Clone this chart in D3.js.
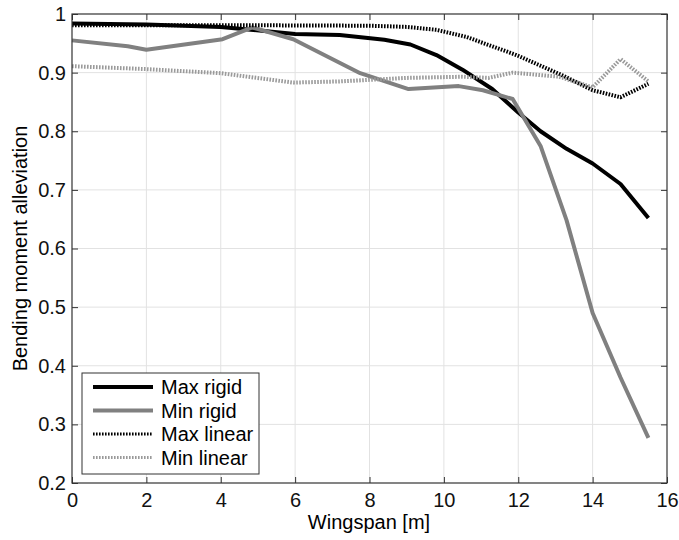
<!DOCTYPE html>
<html>
<head>
<meta charset="utf-8">
<script src="https://cdn.jsdelivr.net/npm/d3@7"></script>
<style>
  body { margin: 0; background: #fff; }
  text { font-family: Arial, "Liberation Sans", sans-serif; }
</style>
</head>
<body>
<div id="chart"></div>
<script>
// values
const maxRigidX = [0, 2, 4, 6, 7.2, 8.4, 9.1, 9.8, 10.5, 11.3, 12, 12.6, 13.3, 14, 14.75, 15.5];
const maxRigidY = [0.984, 0.982, 0.978, 0.966, 0.964, 0.956, 0.948, 0.93, 0.905, 0.872, 0.832, 0.8, 0.77, 0.745, 0.71, 0.652];

const minRigidX = [0, 1.5, 2, 4.05, 4.85, 5.95, 7.75, 9.05, 10.4, 11.05, 11.85, 12.6, 13.3, 14, 14.75, 15.5];
const minRigidY = [0.955, 0.945, 0.939, 0.957, 0.977, 0.957, 0.899, 0.872, 0.877, 0.87, 0.855, 0.775, 0.648, 0.49, 0.38, 0.277];

const maxLinearX = [0, 4, 8, 9, 9.8, 10.6, 11.95, 13.2, 14, 14.75, 15.5];
const maxLinearY = [0.981, 0.981, 0.98, 0.978, 0.973, 0.961, 0.93, 0.895, 0.87, 0.858, 0.881];

const minLinearX = [0, 2, 4, 5.95, 7.2, 9, 10.5, 11.2, 11.85, 13.1, 14, 14.75, 15.5];
const minLinearY = [0.911, 0.906, 0.899, 0.883, 0.885, 0.891, 0.893, 0.891, 0.9, 0.893, 0.875, 0.923, 0.885];

const seriesNames = ["Max rigid", "Min rigid", "Max linear", "Min linear"];
const xTicks = [0, 2, 4, 6, 8, 10, 12, 14, 16];
const yTicks = [0.2, 0.3, 0.4, 0.5, 0.6, 0.7, 0.8, 0.9, 1];

const series = [
  { name: seriesNames[0], xs: maxRigidX, ys: maxRigidY, color: "#000", dash: null },
  { name: seriesNames[1], xs: minRigidX, ys: minRigidY, color: "#808080", dash: null },
  { name: seriesNames[2], xs: maxLinearX, ys: maxLinearY, color: "#000", dash: "1.6,1.4" },
  { name: seriesNames[3], xs: minLinearX, ys: minLinearY, color: "#9a9a9a", dash: "1.6,1.4" }
];

const width = 679, height = 540;
const margin = { top: 14, right: 12, bottom: 57, left: 72 };
const fs = 20;

const x = d3.scaleLinear().domain([0, 16]).range([margin.left, width - margin.right]);
const y = d3.scaleLinear().domain([0.2, 1]).range([height - margin.bottom, margin.top]);

const svg = d3.select("#chart").append("svg")
  .attr("width", width)
  .attr("height", height);

// grid
svg.append("g")
  .selectAll("line")
  .data(xTicks.slice(1, -1))
  .join("line")
  .attr("x1", d => x(d)).attr("x2", d => x(d))
  .attr("y1", y(0.2)).attr("y2", y(1))
  .attr("stroke", "#e2e2e2");
svg.append("g")
  .selectAll("line")
  .data(yTicks.slice(1, -1))
  .join("line")
  .attr("y1", d => y(d)).attr("y2", d => y(d))
  .attr("x1", x(0)).attr("x2", x(16))
  .attr("stroke", "#e2e2e2");

// axes, ticks pointing inward like matlab
const tickStyle = g => {
  g.select(".domain").remove();
  g.selectAll("line").attr("stroke", "#333");
  g.selectAll("text").attr("font-size", fs).attr("fill", "#111");
};

svg.append("g")
  .attr("transform", `translate(0,${y(0.2)})`)
  .call(d3.axisBottom(x).tickValues(xTicks).tickSize(-6).tickPadding(9.5).tickFormat(d3.format("d")))
  .call(tickStyle);
svg.append("g")
  .attr("transform", `translate(0,${y(1)})`)
  .call(d3.axisTop(x).tickValues(xTicks).tickSize(-6).tickFormat(""))
  .call(tickStyle);
svg.append("g")
  .attr("transform", `translate(${x(0)},0)`)
  .call(d3.axisLeft(y).tickValues(yTicks).tickSize(-6).tickPadding(6).tickFormat(d => d === 1 ? "1" : d3.format(".1f")(d)))
  .call(tickStyle);
svg.append("g")
  .attr("transform", `translate(${x(16)},0)`)
  .call(d3.axisRight(y).tickValues(yTicks).tickSize(-6).tickFormat(""))
  .call(tickStyle);

// data lines
const line = d3.line().x(d => x(d[0])).y(d => y(d[1]));
svg.append("g")
  .selectAll("path")
  .data(series)
  .join("path")
  .attr("d", s => line(d3.zip(s.xs, s.ys)))
  .attr("fill", "none")
  .attr("stroke", s => s.color)
  .attr("stroke-width", 4)
  .attr("stroke-linejoin", "round")
  .attr("stroke-dasharray", s => s.dash);

// frame
svg.append("rect")
  .attr("x", x(0)).attr("y", y(1))
  .attr("width", x(16) - x(0)).attr("height", y(0.2) - y(1))
  .attr("fill", "none")
  .attr("stroke", "#333")
  .attr("stroke-width", 1.2);

// labels
svg.append("text")
  .attr("x", 369)
  .attr("y", 529)
  .attr("text-anchor", "middle")
  .attr("font-size", fs)
  .text("Wingspan [m]");
svg.append("text")
  .attr("transform", `translate(27,${(y(0.2) + y(1)) / 2}) rotate(-90)`)
  .attr("text-anchor", "middle")
  .attr("font-size", fs)
  .text("Bending moment alleviation");

// legend
const legend = svg.append("g").attr("transform", "translate(82,373)");
legend.append("rect")
  .attr("width", 177).attr("height", 101)
  .attr("fill", "#fff")
  .attr("stroke", "#333");
const rows = legend.selectAll("g.row")
  .data(series)
  .join("g")
  .attr("class", "row")
  .attr("transform", (d, i) => `translate(0,${14 + i * 23.5})`);
rows.append("line")
  .attr("x1", 11).attr("x2", 71)
  .attr("stroke", d => d.color)
  .attr("stroke-width", d => d.dash ? 3 : 4)
  .attr("stroke-dasharray", d => d.dash);
rows.append("text")
  .attr("x", 79)
  .attr("dy", "0.35em")
  .attr("font-size", fs)
  .text(d => d.name);
</script>
</body>
</html>
